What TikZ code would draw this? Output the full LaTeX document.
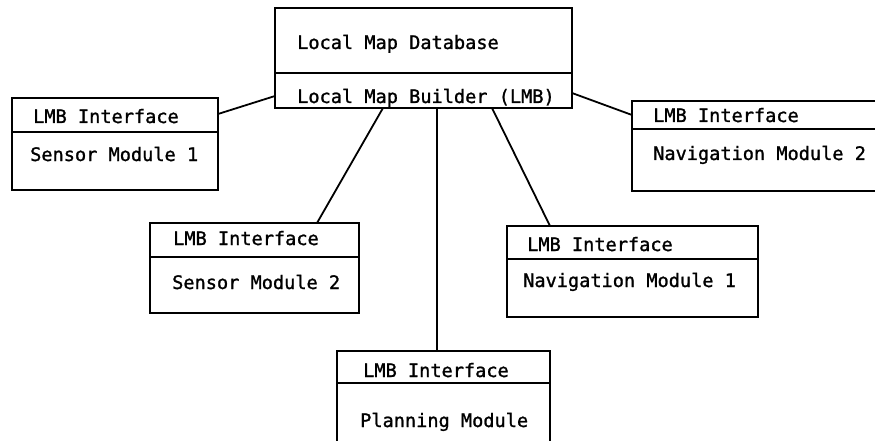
\documentclass[tikz,border=0pt]{standalone}
\usepackage{fontspec}
\setmonofont[FakeBold=1.2,AutoFakeBold=1.2]{DejaVu Sans Mono}
\begin{document}
\begin{tikzpicture}[x=1pt,y=-1pt,
  box/.style={draw,line width=1.8pt,rectangle,inner sep=0pt,outer sep=0pt,anchor=north west},
  lbl/.style={anchor=base west,inner sep=0pt,font=\ttfamily\bfseries\fontsize{18.6}{20}\selectfont},
  link/.style={line width=1.8pt}]
\fill[white] (0,0) rectangle (875,441);
\useasboundingbox (0,0) rectangle (875,441);
% boxes
\node[box,minimum width=297pt,minimum height=100pt] (top) at (275,8) {};
\node[box,minimum width=206pt,minimum height=92pt] (s1) at (12,98) {};
\node[box,minimum width=268pt,minimum height=90pt] (nm2) at (632,101) {};
\node[box,minimum width=209pt,minimum height=90pt] (s2) at (150,223) {};
\node[box,minimum width=251pt,minimum height=91pt] (nm1) at (507,226) {};
\node[box,minimum width=213pt,minimum height=110pt] (pm) at (337,351) {};
% dividers
\draw[link] ([yshift=-65pt]top.north west) -- ([yshift=-65pt]top.north east);
\draw[link] ([yshift=-34pt]s1.north west) -- ([yshift=-34pt]s1.north east);
\draw[link] ([yshift=-28pt]nm2.north west) -- ([yshift=-28pt]nm2.north east);
\draw[link] ([yshift=-34pt]s2.north west) -- ([yshift=-34pt]s2.north east);
\draw[link] ([yshift=-33pt]nm1.north west) -- ([yshift=-33pt]nm1.north east);
\draw[link] ([yshift=-32pt]pm.north west) -- ([yshift=-32pt]pm.north east);
% texts
\node[lbl] (t1) at (297,49) {Local Map Database};
\node[lbl] (t2) at (297,103) {Local Map Builder (LMB)};
\node[lbl] (s1a) at (33,123) {LMB Interface};
\node[lbl] (s1b) at (30,161) {Sensor Module 1};
\node[lbl] (nm2a) at (653,122) {LMB Interface};
\node[lbl] (nm2b) at (653,160) {Navigation Module 2};
\node[lbl] (s2a) at (173,245) {LMB Interface};
\node[lbl] (s2b) at (172,289) {Sensor Module 2};
\node[lbl] (nm1a) at (527,251) {LMB Interface};
\node[lbl] (nm1b) at (523,287) {Navigation Module 1};
\node[lbl] (pma) at (363,377) {LMB Interface};
\node[lbl] (pmb) at (360,427) {Planning Module};
% connectors
\draw[link] ([yshift=-16pt]s1.north east) -- ([yshift=12pt]top.south west);
\draw[link] ([yshift=15pt]top.south east) -- ([yshift=-14pt]nm2.north west);
\draw[link] ([xshift=108pt]top.south west) -- ([xshift=167pt]s2.north west);
\draw[link] ([xshift=162pt]top.south west) -- ([xshift=100pt]pm.north west);
\draw[link] ([xshift=217pt]top.south west) -- ([xshift=43pt]nm1.north west);
\end{tikzpicture}
\end{document}
